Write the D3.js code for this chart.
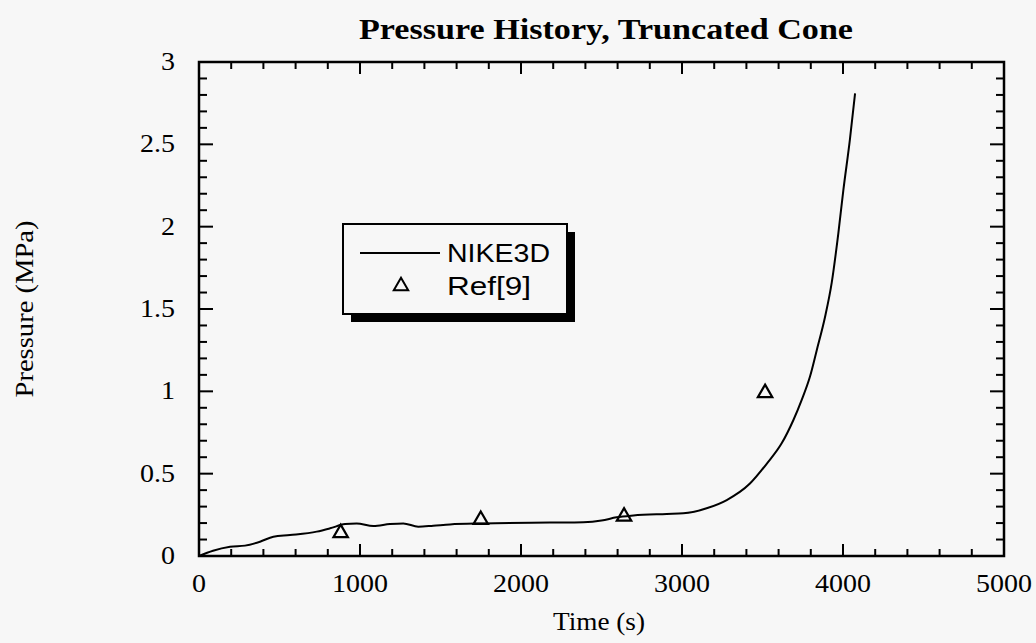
<!DOCTYPE html>
<html lang="en">
<head>
  <meta charset="UTF-8">
  <title>Pressure History, Truncated Cone</title>
  <script src="https://d3js.org/d3.v7.min.js"></script>
  <style>
    body {
      margin: 0;
      background: #f7f7f7;
    }
    svg {
      display: block;
    }
    .serif {
      font-family: "Liberation Serif", "Times New Roman", serif;
      fill: #000;
    }
    .legend-text {
      font-family: "Liberation Sans", Arial, sans-serif;
      font-size: 25px;
      fill: #000;
    }
  </style>
</head>
<body>
  <div id="chart"></div>

  <script>
    // NIKE3D curve (time in s, pressure in MPa)
    const nikeTime = [0, 87, 193, 286, 379, 462, 565, 731, 814, 907, 979, 1083, 1186, 1269, 1362,
      1455, 1559, 1766, 2180, 2387, 2500, 2594, 2698, 2905, 3008, 3153, 3278, 3422, 3526,
      3619, 3692, 3743, 3795, 3837, 3888, 3930, 3971, 4002, 4043, 4075];
    const nikePressure = [0, 0.032, 0.056, 0.063, 0.087, 0.117, 0.127, 0.148, 0.168, 0.194, 0.198,
      0.182, 0.194, 0.198, 0.178, 0.184, 0.192, 0.198, 0.203, 0.205, 0.215, 0.235, 0.246,
      0.255, 0.259, 0.29, 0.34, 0.44, 0.56, 0.684, 0.826, 0.947, 1.09, 1.25, 1.45, 1.66,
      1.96, 2.22, 2.53, 2.81];

    // Ref[9] points
    const refTime = [880, 1750, 2640, 3516];
    const refPressure = [0.14, 0.22, 0.24, 0.99];

    const xTicks = [0, 1000, 2000, 3000, 4000, 5000];
    const yTicks = [0, 0.5, 1, 1.5, 2, 2.5, 3];

    const width = 1036, height = 643;
    const margin = {top: 62, right: 32, bottom: 87, left: 199};

    const svg = d3.select("#chart")
      .append("svg")
      .attr("width", width)
      .attr("height", height);

    const x = d3.scaleLinear()
      .domain([0, 5000])
      .range([margin.left, width - margin.right]);

    const y = d3.scaleLinear()
      .domain([0, 3])
      .range([height - margin.bottom, margin.top]);

    const x0 = x(0), x1 = x(5000), y0 = y(0), y1 = y(3);

    // tick marks on all four sides, pointing inward
    const ticks = svg.append("g")
      .attr("stroke", "#000")
      .attr("stroke-width", 2);

    d3.range(0, 5001, 200).forEach(t => {
      const major = t % 1000 === 0;
      const len = major ? 12 : 7;
      ticks.append("line")
        .attr("x1", x(t)).attr("x2", x(t))
        .attr("y1", y0).attr("y2", y0 - len);
      ticks.append("line")
        .attr("x1", x(t)).attr("x2", x(t))
        .attr("y1", y1).attr("y2", y1 + len);
    });

    d3.range(0, 31).forEach(i => {
      const v = i / 10;
      const major = i % 5 === 0;
      const len = major ? 14 : 8;
      ticks.append("line")
        .attr("x1", x0).attr("x2", x0 + len)
        .attr("y1", y(v)).attr("y2", y(v));
      ticks.append("line")
        .attr("x1", x1).attr("x2", x1 - len)
        .attr("y1", y(v)).attr("y2", y(v));
    });

    // frame
    svg.append("rect")
      .attr("x", x0)
      .attr("y", y1)
      .attr("width", x1 - x0)
      .attr("height", y0 - y1)
      .attr("fill", "none")
      .attr("stroke", "#000")
      .attr("stroke-width", 2.5);

    // tick labels (scan is a bit wide, so stretch text horizontally)
    svg.append("g")
      .selectAll("text")
      .data(xTicks)
      .enter()
      .append("text")
      .attr("class", "serif")
      .attr("transform", d => "translate(" + x(d) + "," + (y0 + 36) + ") scale(1.12,1)")
      .attr("text-anchor", "middle")
      .attr("font-size", 25)
      .text(d => d);

    svg.append("g")
      .selectAll("text")
      .data(yTicks)
      .enter()
      .append("text")
      .attr("class", "serif")
      .attr("transform", d => "translate(" + (x0 - 24) + "," + (y(d) + 8) + ") scale(1.12,1)")
      .attr("text-anchor", "end")
      .attr("font-size", 25)
      .text(d => d);

    // axis titles
    svg.append("text")
      .attr("class", "serif")
      .attr("x", 599)
      .attr("y", 630)
      .attr("text-anchor", "middle")
      .attr("font-size", 26)
      .attr("textLength", 92)
      .attr("lengthAdjust", "spacingAndGlyphs")
      .text("Time (s)");

    svg.append("text")
      .attr("class", "serif")
      .attr("transform", "translate(33,309) rotate(-90)")
      .attr("text-anchor", "middle")
      .attr("font-size", 26)
      .attr("textLength", 177)
      .attr("lengthAdjust", "spacingAndGlyphs")
      .text("Pressure (MPa)");

    // chart title
    svg.append("text")
      .attr("class", "serif")
      .attr("x", 606)
      .attr("y", 39)
      .attr("text-anchor", "middle")
      .attr("font-size", 30)
      .attr("font-weight", "bold")
      .attr("textLength", 494)
      .attr("lengthAdjust", "spacingAndGlyphs")
      .text("Pressure History, Truncated Cone");

    // NIKE3D line
    const nikeData = nikeTime.map((t, i) => [t, nikePressure[i]]);
    const line = d3.line()
      .x(d => x(d[0]))
      .y(d => y(d[1]))
      .curve(d3.curveMonotoneX);

    svg.append("path")
      .datum(nikeData)
      .attr("d", line)
      .attr("fill", "none")
      .attr("stroke", "#000")
      .attr("stroke-width", 2);

    // Ref[9] triangles
    const tri = d3.symbol().type(d3.symbolTriangle).size(90);
    svg.append("g")
      .selectAll("path")
      .data(refTime.map((t, i) => [t, refPressure[i]]))
      .enter()
      .append("path")
      .attr("d", tri)
      .attr("transform", d => "translate(" + x(d[0]) + "," + y(d[1]) + ")")
      .attr("fill", "none")
      .attr("stroke", "#000")
      .attr("stroke-width", 2.2);

    // legend box with drop shadow
    const lg = svg.append("g");
    lg.append("rect")
      .attr("x", 351).attr("y", 232)
      .attr("width", 224).attr("height", 90)
      .attr("fill", "#000");
    lg.append("rect")
      .attr("x", 343).attr("y", 224)
      .attr("width", 224).attr("height", 90)
      .attr("fill", "#f7f7f7")
      .attr("stroke", "#000")
      .attr("stroke-width", 2);

    lg.append("line")
      .attr("x1", 360).attr("x2", 440)
      .attr("y1", 253).attr("y2", 253)
      .attr("stroke", "#000")
      .attr("stroke-width", 2);
    lg.append("text")
      .attr("class", "legend-text")
      .attr("x", 447).attr("y", 262)
      .attr("textLength", 103)
      .attr("lengthAdjust", "spacingAndGlyphs")
      .text("NIKE3D");

    lg.append("path")
      .attr("d", tri)
      .attr("transform", "translate(401,286)")
      .attr("fill", "none")
      .attr("stroke", "#000")
      .attr("stroke-width", 2);
    lg.append("text")
      .attr("class", "legend-text")
      .attr("x", 447).attr("y", 295)
      .attr("textLength", 84)
      .attr("lengthAdjust", "spacingAndGlyphs")
      .text("Ref[9]");
  </script>
</body>
</html>
